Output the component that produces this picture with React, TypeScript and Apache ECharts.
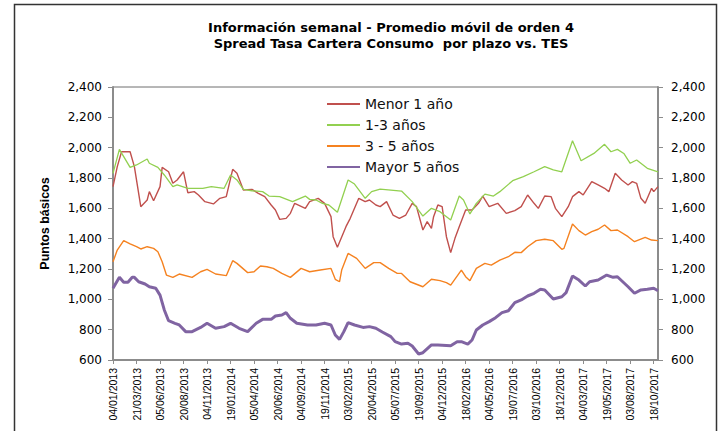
import React, { useEffect, useRef } from "react";
import * as echarts from "echarts";

const titleLines = [
  "Información semanal - Promedio móvil de orden 4",
  "Spread Tasa Cartera Consumo  por plazo vs. TES",
];

const tickLabels = [
  "04/01/2013", "21/03/2013", "05/06/2013", "20/08/2013", "04/11/2013", "19/01/2014",
  "05/04/2014", "20/06/2014", "04/09/2014", "19/11/2014", "03/02/2015", "20/04/2015",
  "05/07/2015", "19/09/2015", "04/12/2015", "18/02/2016", "04/05/2016", "19/07/2016",
  "03/10/2016", "18/12/2016", "04/03/2017", "19/05/2017", "03/08/2017", "18/10/2017",
];

const seriesNames = ["Menor 1 año", "1-3 años", "3 - 5 años", "Mayor 5 años"];

// [week index, basis points]
const menor1: [number, number][] = [
  [0, 1743], [2, 1875], [4, 1973], [8, 1973], [10, 1875], [13, 1611], [16, 1655], [17, 1710],
  [19, 1650], [22, 1743], [23, 1870], [26, 1841], [28, 1765], [30, 1787], [33, 1841], [35, 1703],
  [38, 1710], [40, 1688], [43, 1644], [47, 1629], [50, 1666], [53, 1677], [56, 1857], [58, 1831],
  [61, 1721], [65, 1725], [68, 1699], [71, 1677], [74, 1622], [76, 1589], [78, 1527], [81, 1534],
  [83, 1567], [85, 1633], [90, 1600], [92, 1644], [96, 1666], [99, 1633], [102, 1545], [103, 1413],
  [105, 1343], [109, 1479], [111, 1534], [115, 1666], [118, 1644], [120, 1655], [123, 1622],
  [125, 1611], [128, 1644], [131, 1556], [134, 1534], [137, 1556], [140, 1633], [142, 1611],
  [145, 1457], [147, 1512], [149, 1468], [150, 1545], [152, 1622], [154, 1611], [156, 1413],
  [158, 1308], [160, 1402], [162, 1479], [165, 1589], [168, 1589], [171, 1633], [173, 1681],
  [176, 1611], [180, 1633], [184, 1567], [188, 1585], [191, 1611], [194, 1688], [197, 1633],
  [199, 1600], [202, 1681], [205, 1677], [207, 1600], [210, 1545], [213, 1611], [215, 1677],
  [218, 1710], [220, 1688], [224, 1776], [227, 1754], [230, 1732], [232, 1710], [235, 1831],
  [238, 1787], [241, 1754], [243, 1776], [245, 1765], [247, 1666], [249, 1633], [252, 1732],
  [253, 1710], [255, 1743],
];

const anos1a3: [number, number][] = [
  [0, 1831], [3, 1989], [8, 1870], [11, 1886], [16, 1925], [17, 1897], [21, 1870], [24, 1820],
  [28, 1743], [30, 1754], [35, 1732], [42, 1732], [46, 1743], [52, 1732], [55, 1820], [58, 1787],
  [61, 1725], [65, 1716], [70, 1710], [73, 1681], [78, 1677], [84, 1644], [90, 1681], [92, 1659],
  [95, 1655], [98, 1633], [101, 1622], [105, 1574], [110, 1787], [113, 1760], [118, 1666],
  [121, 1710], [125, 1727], [135, 1714], [140, 1644], [145, 1549], [149, 1600], [153, 1578],
  [158, 1523], [162, 1681], [164, 1655], [167, 1563], [170, 1633], [174, 1694], [178, 1681],
  [181, 1710], [187, 1782], [192, 1809], [197, 1841], [202, 1875], [206, 1853], [210, 1841],
  [215, 2046], [219, 1914], [225, 1962], [230, 2022], [233, 1973], [236, 1989], [239, 1962],
  [242, 1897], [245, 1919], [250, 1864], [255, 1841],
];

const anos3a5: [number, number][] = [
  [0, 1248], [2, 1325], [5, 1387], [8, 1365], [11, 1347], [13, 1332], [16, 1347], [19, 1336],
  [21, 1314], [23, 1248], [25, 1160], [28, 1145], [31, 1167], [37, 1145], [41, 1182], [44, 1198],
  [48, 1167], [53, 1156], [56, 1255], [58, 1237], [63, 1176], [66, 1182], [69, 1220], [72, 1215],
  [75, 1204], [79, 1171], [83, 1145], [88, 1204], [92, 1182], [97, 1193], [102, 1204], [104, 1132],
  [106, 1116], [107, 1193], [110, 1303], [114, 1270], [118, 1204], [122, 1242], [125, 1242],
  [129, 1204], [133, 1171], [135, 1171], [139, 1116], [145, 1083], [149, 1132], [153, 1123],
  [156, 1110], [158, 1094], [163, 1193], [165, 1149], [167, 1123], [170, 1204], [174, 1237],
  [177, 1226], [181, 1259], [185, 1281], [188, 1310], [191, 1308], [194, 1347], [198, 1387],
  [202, 1396], [206, 1387], [210, 1330], [211, 1336], [215, 1497], [218, 1453], [221, 1424],
  [224, 1446], [227, 1462], [230, 1490], [233, 1453], [236, 1457], [241, 1413], [244, 1380],
  [249, 1409], [252, 1391], [255, 1387],
];

const mayor5: [number, number][] = [
  [0, 1073], [3, 1145], [5, 1112], [7, 1112], [9, 1145], [10, 1145], [12, 1116], [15, 1101],
  [17, 1083], [20, 1073], [22, 1028], [24, 930], [26, 859], [29, 842], [31, 831], [34, 787],
  [37, 787], [41, 815], [44, 842], [48, 809], [52, 820], [55, 842], [59, 809], [63, 787],
  [67, 842], [70, 868], [74, 868], [76, 890], [79, 897], [81, 912], [83, 875], [86, 842],
  [91, 831], [95, 831], [99, 842], [102, 831], [104, 765], [106, 736], [108, 787], [110, 846],
  [113, 831], [117, 815], [120, 820], [123, 809], [126, 785], [130, 754], [132, 721], [135, 705],
  [138, 710], [140, 692], [143, 640], [145, 648], [149, 699], [152, 699], [158, 694], [161, 721],
  [163, 721], [166, 705], [168, 732], [170, 798], [173, 831], [176, 853], [179, 879], [182, 912],
  [185, 925], [188, 978], [191, 996], [194, 1022], [197, 1040], [200, 1066], [202, 1062],
  [206, 1002], [210, 1017], [212, 1044], [215, 1154], [218, 1127], [221, 1088], [223, 1116],
  [227, 1127], [231, 1160], [234, 1145], [236, 1149], [241, 1083], [244, 1040], [247, 1062],
  [250, 1066], [253, 1073], [255, 1057],
];

const WEEKS_PER_LABEL = 11;
const LAST_WEEK = 255;

const fmt = (v: number) => String(v).replace(/\B(?=(\d{3})+(?!\d))/g, ",");

export default function App() {
  const ref = useRef<HTMLDivElement>(null);
  useEffect(() => {
    document.body.style.margin = "0";
    const chart = echarts.init(ref.current!, null, { renderer: "svg" });
    const axisLine = { show: true, lineStyle: { color: "#8c8c8c", width: 2 } };
    const yLabel = { fontFamily: "DejaVu Sans", fontSize: 12, color: "#000", formatter: fmt };
    chart.setOption({
      animation: false,
      backgroundColor: "#fff",
      grid: {
        left: 113, right: 68, top: 87, bottom: 71,
        show: true, borderColor: "#6e6e6e", borderWidth: 1,
      },
      graphic: [
        {
          type: "rect",
          shape: { x: 14.5, y: 4.5, width: 702, height: 500 },
          style: { fill: "none", stroke: "#333", lineWidth: 1.5 },
          silent: true,
        },
        {
          type: "text", x: 391, y: 27,
          style: {
            text: titleLines[0], align: "center", verticalAlign: "middle",
            fontFamily: "DejaVu Sans", fontWeight: "bold", fontSize: 13, fill: "#000",
          },
        },
        {
          type: "text", x: 391, y: 43,
          style: {
            text: titleLines[1], align: "center", verticalAlign: "middle",
            fontFamily: "DejaVu Sans", fontWeight: "bold", fontSize: 13, fill: "#000",
          },
        },
      ],
      legend: {
        orient: "vertical",
        left: 326, top: 97, padding: 0,
        itemWidth: 33, itemHeight: 14, itemGap: 7,
        itemStyle: { opacity: 0 },
        data: seriesNames,
        textStyle: { fontFamily: "DejaVu Sans", fontSize: 14, color: "#111" },
      },
      xAxis: {
        type: "value",
        min: 0, max: LAST_WEEK, interval: WEEKS_PER_LABEL,
        axisLine: axisLine,
        axisTick: { show: true, length: 4, lineStyle: { color: "#8c8c8c" } },
        splitLine: { show: false },
        axisLabel: {
          rotate: 90, margin: 8, showMaxLabel: false,
          fontFamily: "Liberation Sans", fontSize: 10.5, color: "#000",
          formatter: (v: number) =>
            v % WEEKS_PER_LABEL === 0 ? tickLabels[v / WEEKS_PER_LABEL] ?? "" : "",
        },
      },
      yAxis: [
        {
          type: "value", min: 600, max: 2400, interval: 200, position: "left",
          name: "Puntos básicos", nameLocation: "middle", nameGap: 62,
          nameTextStyle: { fontFamily: "Liberation Sans", fontWeight: "bold", fontSize: 12.5, color: "#000" },
          axisLine: axisLine,
          axisTick: { show: true, length: 5, lineStyle: { color: "#8c8c8c" } },
          splitLine: { show: false },
          axisLabel: { ...yLabel, margin: 11 },
        },
        {
          type: "value", min: 600, max: 2400, interval: 200, position: "right",
          axisLine: axisLine,
          axisTick: { show: true, length: 5, lineStyle: { color: "#8c8c8c" } },
          splitLine: { show: false },
          axisLabel: { ...yLabel, margin: 13 },
        },
      ],
      series: [
        {
          name: seriesNames[0], type: "line", data: menor1, symbol: "none",
          color: "#C0504D", lineStyle: { width: 1.4, color: "#C0504D" }, z: 3,
        },
        {
          name: seriesNames[1], type: "line", data: anos1a3, symbol: "none",
          color: "#92D050", lineStyle: { width: 1.3, color: "#92D050" }, z: 4,
        },
        {
          name: seriesNames[2], type: "line", data: anos3a5, symbol: "none",
          color: "#F58220", lineStyle: { width: 1.4, color: "#F58220" }, z: 3,
        },
        {
          name: seriesNames[3], type: "line", data: mayor5, symbol: "none",
          color: "#8064A2", lineStyle: { width: 3, color: "#8064A2" }, z: 2,
        },
      ],
    });
    return () => chart.dispose();
  }, []);
  return <div ref={ref} style={{ width: 726, height: 431 }} />;
}
